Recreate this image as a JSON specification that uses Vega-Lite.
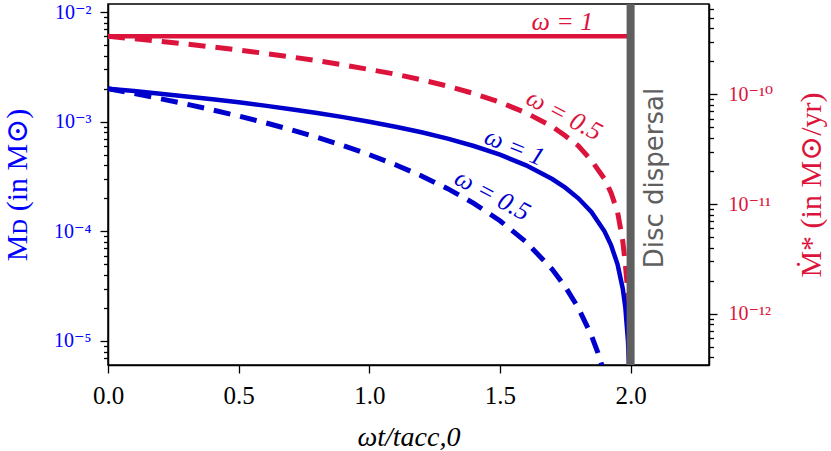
{
  "$schema": "https://vega.github.io/schema/vega-lite/v6.json",
  "width": 601,
  "height": 361,
  "autosize": "none",
  "padding": {"left": 108, "top": 4, "right": 122, "bottom": 86},
  "background": "white",
  "config": {
    "view": {"stroke": "black", "strokeWidth": 1.5},
    "axis": {
      "grid": false,
      "domainColor": "black",
      "domainWidth": 1.5,
      "tickColor": "black",
      "tickWidth": 1.3,
      "labelFont": "Liberation Serif, DejaVu Serif",
      "titleFont": "Liberation Serif, DejaVu Serif",
      "titleFontWeight": "normal",
      "labelOverlap": false,
      "labelFlush": false
    }
  },
  "datasets": {
    "disc": [
      {"omega": 1, "t": 0, "M": 0.002},
      {"omega": 1, "t": 0.1, "M": 0.0019},
      {"omega": 1, "t": 0.2, "M": 0.0018},
      {"omega": 1, "t": 0.3, "M": 0.0017},
      {"omega": 1, "t": 0.4, "M": 0.0016},
      {"omega": 1, "t": 0.5, "M": 0.0015},
      {"omega": 1, "t": 0.6, "M": 0.0014},
      {"omega": 1, "t": 0.7, "M": 0.0013},
      {"omega": 1, "t": 0.8, "M": 0.0012},
      {"omega": 1, "t": 0.9, "M": 0.0011},
      {"omega": 1, "t": 1.0, "M": 0.001},
      {"omega": 1, "t": 1.1, "M": 0.0009},
      {"omega": 1, "t": 1.2, "M": 0.0008},
      {"omega": 1, "t": 1.3, "M": 0.0007},
      {"omega": 1, "t": 1.4, "M": 0.0006},
      {"omega": 1, "t": 1.5, "M": 0.0005},
      {"omega": 1, "t": 1.6, "M": 0.0004},
      {"omega": 1, "t": 1.7, "M": 0.0003},
      {"omega": 1, "t": 1.75, "M": 0.00025},
      {"omega": 1, "t": 1.8, "M": 0.0002},
      {"omega": 1, "t": 1.85, "M": 0.00015},
      {"omega": 1, "t": 1.9, "M": 0.0001},
      {"omega": 1, "t": 1.925, "M": 0.000075},
      {"omega": 1, "t": 1.95, "M": 0.00005},
      {"omega": 1, "t": 1.97, "M": 0.00003},
      {"omega": 1, "t": 1.98, "M": 0.00002},
      {"omega": 1, "t": 1.99, "M": 0.00001},
      {"omega": 1, "t": 1.995, "M": 0.000005},
      {"omega": 1, "t": 1.999, "M": 0.000001},
      {"omega": 0.5, "t": 0, "M": 0.002},
      {"omega": 0.5, "t": 0.1, "M": 0.001805},
      {"omega": 0.5, "t": 0.2, "M": 0.00162},
      {"omega": 0.5, "t": 0.3, "M": 0.001445},
      {"omega": 0.5, "t": 0.4, "M": 0.00128},
      {"omega": 0.5, "t": 0.5, "M": 0.001125},
      {"omega": 0.5, "t": 0.6, "M": 0.00098},
      {"omega": 0.5, "t": 0.7, "M": 0.000845},
      {"omega": 0.5, "t": 0.8, "M": 0.00072},
      {"omega": 0.5, "t": 0.9, "M": 0.000605},
      {"omega": 0.5, "t": 1.0, "M": 0.0005},
      {"omega": 0.5, "t": 1.1, "M": 0.000405},
      {"omega": 0.5, "t": 1.2, "M": 0.00032},
      {"omega": 0.5, "t": 1.3, "M": 0.000245},
      {"omega": 0.5, "t": 1.4, "M": 0.00018},
      {"omega": 0.5, "t": 1.5, "M": 0.000125},
      {"omega": 0.5, "t": 1.6, "M": 0.00008},
      {"omega": 0.5, "t": 1.7, "M": 0.000045},
      {"omega": 0.5, "t": 1.75, "M": 0.00003125},
      {"omega": 0.5, "t": 1.8, "M": 0.00002},
      {"omega": 0.5, "t": 1.85, "M": 0.00001125},
      {"omega": 0.5, "t": 1.875, "M": 0.0000078},
      {"omega": 0.5, "t": 1.9, "M": 0.000005}
    ],
    "accretion": [
      {"omega": 1, "t": 0, "Mdot": 3.387e-10},
      {"omega": 1, "t": 1, "Mdot": 3.387e-10},
      {"omega": 1, "t": 2, "Mdot": 3.387e-10},
      {"omega": 0.5, "t": 0, "Mdot": 3.39e-10},
      {"omega": 0.5, "t": 0.1, "Mdot": 3.22e-10},
      {"omega": 0.5, "t": 0.2, "Mdot": 3.05e-10},
      {"omega": 0.5, "t": 0.3, "Mdot": 2.88e-10},
      {"omega": 0.5, "t": 0.4, "Mdot": 2.71e-10},
      {"omega": 0.5, "t": 0.5, "Mdot": 2.54e-10},
      {"omega": 0.5, "t": 0.6, "Mdot": 2.37e-10},
      {"omega": 0.5, "t": 0.7, "Mdot": 2.2e-10},
      {"omega": 0.5, "t": 0.8, "Mdot": 2.03e-10},
      {"omega": 0.5, "t": 0.9, "Mdot": 1.86e-10},
      {"omega": 0.5, "t": 1.0, "Mdot": 1.69e-10},
      {"omega": 0.5, "t": 1.1, "Mdot": 1.53e-10},
      {"omega": 0.5, "t": 1.2, "Mdot": 1.36e-10},
      {"omega": 0.5, "t": 1.3, "Mdot": 1.19e-10},
      {"omega": 0.5, "t": 1.4, "Mdot": 1.02e-10},
      {"omega": 0.5, "t": 1.5, "Mdot": 8.5e-11},
      {"omega": 0.5, "t": 1.6, "Mdot": 6.8e-11},
      {"omega": 0.5, "t": 1.7, "Mdot": 5.1e-11},
      {"omega": 0.5, "t": 1.75, "Mdot": 4.2e-11},
      {"omega": 0.5, "t": 1.8, "Mdot": 3.4e-11},
      {"omega": 0.5, "t": 1.85, "Mdot": 2.5e-11},
      {"omega": 0.5, "t": 1.9, "Mdot": 1.7e-11},
      {"omega": 0.5, "t": 1.925, "Mdot": 1.27e-11},
      {"omega": 0.5, "t": 1.95, "Mdot": 8.5e-12},
      {"omega": 0.5, "t": 1.97, "Mdot": 4.6e-12},
      {"omega": 0.5, "t": 1.98, "Mdot": 2.8e-12},
      {"omega": 0.5, "t": 1.99, "Mdot": 1.5e-12},
      {"omega": 0.5, "t": 1.995, "Mdot": 8e-13},
      {"omega": 0.5, "t": 1.999, "Mdot": 1.7e-13}
    ],
    "labels": [
      {"key": "acc1", "t": 1.739, "M": 0.0081, "text": "ω = 1"},
      {"key": "acc05", "t": 1.746, "M": 0.00115, "text": "ω = 0.5"},
      {"key": "disc1", "t": 1.555, "M": 0.000587, "text": "ω = 1"},
      {"key": "disc05", "t": 1.471, "M": 0.000214, "text": "ω = 0.5"},
      {"key": "dispersal", "t": 2.125, "M": 0.000306, "text": "Disc dispersal"}
    ]
  },
  "encoding": {
    "x": {
      "field": "t",
      "type": "quantitative",
      "scale": {"domain": [0, 2.3], "nice": false, "zero": false},
      "axis": {
        "values": [0, 0.5, 1, 1.5, 2],
        "format": ".1f",
        "tickSize": 8,
        "labelFontSize": 25,
        "labelPadding": 10,
        "labelColor": "black",
        "title": "ωt/tacc,0",
        "titleColor": "black",
        "titleFontSize": 28,
        "titleFontStyle": "italic",
        "titleY": 72,
        "titleBaseline": "middle"
      }
    }
  },
  "layer": [
    {
      "data": {"name": "accretion"},
      "encoding": {
        "y": {
          "field": "Mdot",
          "type": "quantitative",
          "scale": {"type": "log", "domain": [3.41e-13, 6.68e-10], "nice": false},
          "axis": {
            "orient": "right",
            "values": [4e-13, 5e-13, 6e-13, 7e-13, 8e-13, 9e-13, 1e-12, 2e-12, 3e-12, 4e-12, 5e-12, 6e-12, 7e-12, 8e-12, 9e-12, 1e-11, 2e-11, 3e-11, 4e-11, 5e-11, 6e-11, 7e-11, 8e-11, 9e-11, 1e-10, 2e-10, 3e-10, 4e-10, 5e-10, 6e-10],
            "labelExpr": "abs(log(datum.value)/LN10 - round(log(datum.value)/LN10)) < 0.001 ? '10⁻¹' + ['⁰','¹','²'][-round(log(datum.value)/LN10) - 10] : ''",
            "tickSize": {"condition": {"test": "abs(log(datum.value)/LN10 - round(log(datum.value)/LN10)) < 0.001", "value": 8}, "value": 4.5},
            "labelColor": "#dc143c",
            "labelFontSize": 20,
            "labelPadding": 11,
            "labelBaseline": "middle",
            "title": "Ṁ* (in M⊙/yr)",
            "titleColor": "#dc143c",
            "titleFontSize": 30,
            "titleAngle": -90,
            "titleX": 102,
            "titleY": 180.5,
            "titleAlign": "center",
            "titleBaseline": "middle"
          }
        }
      },
      "layer": [
        {
          "transform": [{"filter": "datum.omega == 1"}],
          "mark": {"type": "line", "color": "#dc143c", "strokeWidth": 4.5, "clip": true}
        },
        {
          "transform": [{"filter": "datum.omega == 0.5"}],
          "mark": {"type": "line", "color": "#dc143c", "strokeWidth": 5, "strokeDash": [17, 10], "strokeCap": "butt", "clip": true}
        }
      ]
    },
    {
      "data": {"name": "disc"},
      "encoding": {
        "y": {
          "field": "M",
          "type": "quantitative",
          "scale": {"type": "log", "domain": [6.04e-6, 0.01183], "nice": false},
          "axis": {
            "orient": "left",
            "values": [6e-6, 7e-6, 8e-6, 9e-6, 1e-5, 2e-5, 3e-5, 4e-5, 5e-5, 6e-5, 7e-5, 8e-5, 9e-5, 1e-4, 2e-4, 3e-4, 4e-4, 5e-4, 6e-4, 7e-4, 8e-4, 9e-4, 1e-3, 2e-3, 3e-3, 4e-3, 5e-3, 6e-3, 7e-3, 8e-3, 9e-3, 1e-2],
            "labelExpr": "abs(log(datum.value)/LN10 - round(log(datum.value)/LN10)) < 0.001 ? '10⁻' + ['⁰','¹','²','³','⁴','⁵','⁶','⁷','⁸','⁹'][-round(log(datum.value)/LN10)] : ''",
            "tickSize": {"condition": {"test": "abs(log(datum.value)/LN10 - round(log(datum.value)/LN10)) < 0.001", "value": 8}, "value": 4.5},
            "labelColor": "blue",
            "labelFontSize": 20,
            "labelPadding": 9,
            "labelBaseline": "middle",
            "title": "Mᴅ (in M⊙)",
            "titleColor": "blue",
            "titleFontSize": 30,
            "titleAngle": -90,
            "titleX": -91,
            "titleY": 180.5,
            "titleAlign": "center",
            "titleBaseline": "middle"
          }
        }
      },
      "layer": [
        {
          "transform": [{"filter": "datum.omega == 1"}],
          "mark": {"type": "line", "color": "mediumblue", "strokeWidth": 4.5, "clip": true}
        },
        {
          "transform": [{"filter": "datum.omega == 0.5"}],
          "mark": {"type": "line", "color": "mediumblue", "strokeWidth": 5, "strokeDash": [17, 10], "strokeCap": "butt", "clip": true}
        },
        {
          "data": {"name": "labels"},
          "transform": [{"filter": "datum.key == 'acc1'"}],
          "mark": {"type": "text", "color": "#dc143c", "font": "Liberation Serif", "fontStyle": "italic", "fontSize": 26, "align": "center", "baseline": "middle"},
          "encoding": {"text": {"field": "text"}}
        },
        {
          "data": {"name": "labels"},
          "transform": [{"filter": "datum.key == 'acc05'"}],
          "mark": {"type": "text", "color": "#dc143c", "font": "Liberation Serif", "fontStyle": "italic", "fontSize": 26, "angle": 28, "align": "center", "baseline": "middle"},
          "encoding": {"text": {"field": "text"}}
        },
        {
          "data": {"name": "labels"},
          "transform": [{"filter": "datum.key == 'disc1'"}],
          "mark": {"type": "text", "color": "mediumblue", "font": "Liberation Serif", "fontStyle": "italic", "fontSize": 26, "angle": 22, "align": "center", "baseline": "middle"},
          "encoding": {"text": {"field": "text"}}
        },
        {
          "data": {"name": "labels"},
          "transform": [{"filter": "datum.key == 'disc05'"}],
          "mark": {"type": "text", "color": "mediumblue", "font": "Liberation Serif", "fontStyle": "italic", "fontSize": 26, "angle": 28, "align": "center", "baseline": "middle"},
          "encoding": {"text": {"field": "text"}}
        },
        {
          "data": {"name": "labels"},
          "transform": [{"filter": "datum.key == 'dispersal'"}],
          "mark": {"type": "text", "color": "#5f5f5f", "font": "DejaVu Sans", "fontSize": 26, "angle": -90, "align": "center", "baseline": "alphabetic"},
          "encoding": {"text": {"field": "text"}}
        }
      ]
    },
    {
      "data": {"values": [{"t": 2.0}]},
      "mark": {"type": "rule", "color": "#5f5f5f", "strokeWidth": 8},
      "encoding": {}
    }
  ],
  "resolve": {"scale": {"y": "independent"}}
}
